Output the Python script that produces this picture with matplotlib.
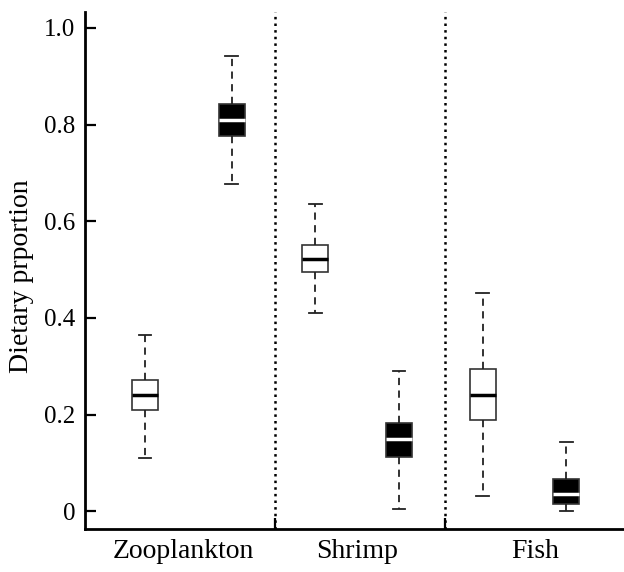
import matplotlib
matplotlib.use('Agg')
import matplotlib.pyplot as plt

plt.rcParams['font.family'] = ['Liberation Serif', 'DejaVu Serif']

# Data
groups = ['Zooplankton', 'Shrimp', 'Fish']
group_x = [1.42, 3.5, 5.63]
box_pos = [0.965, 2, 3, 4, 5, 6]
box_fill = ['white', 'black', 'white', 'black', 'white', 'black']
whislo = [0.11, 0.677, 0.41, 0.004, 0.031, 0.0]
q1 = [0.209, 0.776, 0.495, 0.112, 0.188, 0.014]
med = [0.24, 0.81, 0.522, 0.149, 0.24, 0.035]
q3 = [0.271, 0.843, 0.551, 0.182, 0.294, 0.066]
whishi = [0.364, 0.942, 0.636, 0.29, 0.451, 0.143]
yticks = [0, 0.2, 0.4, 0.6, 0.8, 1.0]
ytick_labels = ['0', '0.2', '0.4', '0.6', '0.8', '1.0']

fig = plt.figure(figsize=(6.24, 5.72), dpi=100)
ax = fig.add_axes([0.136, 0.075, 0.864, 0.904])

for i in range(len(box_pos)):
    st = [{'whislo': whislo[i], 'q1': q1[i], 'med': med[i], 'q3': q3[i],
           'whishi': whishi[i], 'fliers': []}]
    medc = 'white' if box_fill[i] == 'black' else 'black'
    ax.bxp(st, positions=[box_pos[i]], widths=0.31, patch_artist=True,
           showfliers=False,
           boxprops=dict(facecolor=box_fill[i], edgecolor='#333333', linewidth=1.2),
           medianprops=dict(color=medc, linewidth=2.5),
           whiskerprops=dict(color='#222222', linestyle=(0, (4, 3)), linewidth=1.3),
           capprops=dict(color='#222222', linewidth=1.3),
           capwidths=0.15)

# dotted separators between groups
for xd in [2.52, 4.55]:
    ax.axvline(xd, color='black', linestyle=':', linewidth=1.8)

ax.set_xlim(0.246, 6.69)
ax.set_ylim(-0.037, 1.033)
ax.set_yticks(yticks)
ax.set_yticklabels(ytick_labels)
ax.set_xticks([2.52, 4.55])
ax.set_xticklabels([])
ax.tick_params(axis='both', direction='in', length=8, width=1.6, labelsize=18)
ax.tick_params(axis='y', pad=7)

for xl, name in zip(group_x, groups):
    ax.text(xl, -0.058, name, ha='center', va='top', fontsize=20)

ax.set_ylabel('Dietary prportion', fontsize=20)
ax.yaxis.label.set_va('center')
ax.yaxis.set_label_coords(-0.117, 0.49)
ax.spines['top'].set_visible(False)
ax.spines['right'].set_visible(False)
ax.spines['left'].set_linewidth(2)
ax.spines['bottom'].set_linewidth(2)

fig.savefig('out.png', dpi=100)
